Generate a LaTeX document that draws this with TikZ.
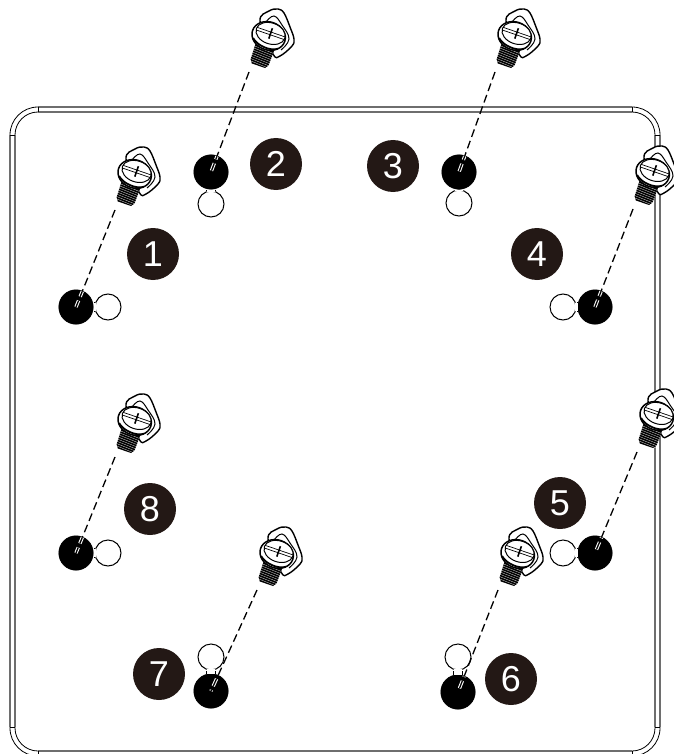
\documentclass[tikz,border=0pt]{standalone}
\usepackage{fontspec}
\setmainfont{Liberation Sans}
\usepackage{xcolor}
\definecolor{pastilleFond}{HTML}{231815}
\definecolor{panneauGris}{HTML}{6E6E6E}
\usetikzlibrary{positioning}
\tikzset{
  %% ── Plaque ───────────────────────────────────────────────────────────
  plaque/.style     = {draw=black, line width=0.8pt},
  plaqueDroit/.style = {draw=panneauGris, line width=1.2pt},
  %%
  %% ── Trous ────────────────────────────────────────────────────────────
  trou/.style       = {circle, fill=black, draw=black, line width=0.5pt,
                       minimum size=34.5pt, inner sep=0pt},
  trouLibre/.style  = {circle, fill=white, draw=black, line width=1pt,
                       minimum size=26pt, inner sep=0pt},
  couBord/.style    = {draw=black, line width=10pt},
  couVide/.style    = {draw=white, line width=8pt, shorten >=-1.8pt},
  %%
  %% ── Tiretes ──────────────────────────────────────────────────────────
  fleche/.style     = {draw=black, line width=1.3pt, dash pattern=on 8pt off 4.2pt},
  flecheFente/.style = {draw=white, line width=3.4pt, dash pattern=on 8pt off 4.2pt},
  %%
  %% ── Texte ────────────────────────────────────────────────────────────
  pastille/.style   = {circle, fill=pastilleFond, text=white, minimum size=52pt,
                       inner sep=0pt, font=\fontsize{36}{36}\selectfont},
  %%
  %% ── Vis ──────────────────────────────────────────────────────────────
  vis/.pic = {
    \draw[fill=white, line width=1.4pt, line join=round]
      plot[smooth cycle, tension=0.6] coordinates {(-9,-14) (0,-24) (9,-26) (15,-22)
        (21,-8) (25,4) (23,11) (11,21) (4,19)};
    \draw[line width=1pt]
      plot[smooth, tension=0.7] coordinates {(-3,-13) (5,-19) (13,-10) (20,4) (12,15)};
    \begin{scope}[rotate=-19]
      \fill[black] (-10,10) -- (10,10) -- (9.5,29) -- (7,32.5) -- (-7,32.5) -- (-9.5,29) -- cycle;
      \foreach \t in {15,17.2,...,31}
        \draw[white, line width=0.25pt] (-10,\t) -- (10,\t+1);
      \draw[fill=white, line width=1.5pt] (0,1) ellipse (17 and 14);
      \draw[fill=white, line width=1pt] (1,-2) ellipse (15 and 10.5);
      \draw[line width=0.7pt] (-14,-3.4) -- (16,-3.4) (-14,-0.6) -- (16,-0.6);
      \draw[line width=1.6pt] (1,-7.5) -- (1,3.5);
      \draw[line width=1.8pt] (-14,8) .. controls (-8,14) and (7,15) .. (13,10);
    \end{scope}
    \coordinate (-bout) at (-20,37);
  },
}
\begin{document}
\begin{tikzpicture}[x=1pt, y=-1pt]
\useasboundingbox (0,0) rectangle (673,754);

%% La plaque, double trait, coupee en bas par le cadre.
\draw[plaque, rounded corners=28pt] (10,107) rectangle (660,756);
\draw[plaque, rounded corners=23pt] (15,112) rectangle (655,751);
\foreach \yy in {107,112,751}
  \draw[plaqueDroit] (38,\yy) -- (632,\yy);
\foreach \xx in {10,15,655,660}
  \draw[plaqueDroit] (\xx,135) -- (\xx,727);
\foreach \xx in {38,632} {
  \draw[plaque] (\xx,107) -- (\xx,112);
  \draw[plaque] (\xx,751) -- (\xx,754);
}
\foreach \xa/\xb in {10/15,655/660} {
  \draw[plaque] (\xa,135) -- (\xb,135);
  \draw[plaque] (\xa,727) -- (\xb,727);
}

%% Les huit trous en serrure.
\foreach \n/\hx/\hy/\kx/\ky in {1/76/307/108/307, 2/211/172/211/204, 3/459/172/459/203,
                                4/595/307/563/307, 5/595/553/563/553, 6/458/692/458/657,
                                7/211/691/211/657, 8/76/553/108/553} {
  \node[trou] (h\n) at (\hx,\hy) {};
  \node[trouLibre] (k\n) at (\kx,\ky) {};
  \draw[couBord] (h\n) -- (k\n);
  \draw[couVide] (h\n) -- (k\n);
}

%% Les vis, posees sur la plaque.
\foreach \n/\sx/\sy in {1/135/173, 2/269/35, 3/515/35, 4/653/172,
                        5/657/415, 6/518/553, 7/277/553, 8/135/420}
  \pic (s\n) at (\sx,\sy) {vis};

\foreach \n in {1,...,8} {
  \draw[fleche] (s\n-bout) -- (h\n.center);
  \begin{scope}
    \clip (h\n.center) circle (17pt);
    \draw[flecheFente] (s\n-bout) -- (h\n.center);
    \draw[fleche] (s\n-bout) -- (h\n.center);
  \end{scope}
}

%% Les numeros.
\foreach \n/\px/\py in {1/153/254, 2/276/164, 3/393/166, 4/537/254,
                        5/560/503, 6/511/679, 7/159/674, 8/150/509}
  \node[pastille] (p\n) at (\px,\py) {\n};

\end{tikzpicture}
\end{document}
